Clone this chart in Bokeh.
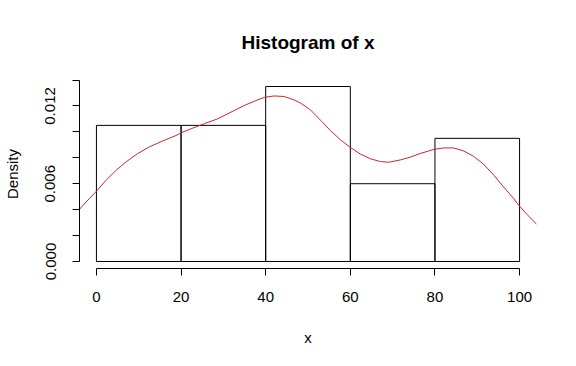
from bokeh.plotting import figure
from bokeh.models import Range1d, FixedTicker
from bokeh.embed import file_html
from bokeh.resources import INLINE

# Histogram data (breaks of width 20, density)
bin_left = [0, 20, 40, 60, 80]
bin_right = [20, 40, 60, 80, 100]
density = [0.0105, 0.0105, 0.0135, 0.006, 0.0095]

# Kernel density curve
kde_x = [-4.0, -1.65, 0.09, 2.29, 4.65, 7.0, 9.76, 12.5, 15.66, 18.8, 20.2,
         22.3, 25.5, 28.6, 31.8, 34.9, 38.1, 39.8, 42.0, 44.3, 46.7, 48.3, 50.6,
         53.0, 55.3, 57.7, 59.9, 62.4, 64.8, 67.1, 69.1, 71.9, 74.2, 76.5, 79.9,
         82.1, 84.4, 86.8, 89.1, 91.5, 93.9, 96.2, 98.6, 99.8, 101.7, 104.1]
kde_y = [0.00403, 0.00486, 0.00545, 0.00627, 0.00704, 0.00768, 0.00833, 0.00884,
         0.0093, 0.00972, 0.00995, 0.01023, 0.01063, 0.0110, 0.01152,
         0.01203, 0.01247, 0.01267, 0.01277, 0.01273, 0.01247, 0.01221, 0.01169,
         0.01088, 0.0101, 0.00938, 0.00882, 0.00828, 0.00792, 0.00771, 0.00766,
         0.00784, 0.00805, 0.00833, 0.00866, 0.00876, 0.00876, 0.00853, 0.00812,
         0.00751, 0.00666, 0.00576, 0.00486, 0.00434, 0.00365, 0.00285]

x_ticks = [0, 20, 40, 60, 80, 100]
y_ticks = [0.0, 0.002, 0.004, 0.006, 0.008, 0.010, 0.012, 0.014]
y_labels = {0.0: "0.000", 0.006: "0.006", 0.012: "0.012"}

FONT = "Liberation Sans"

p = figure(width=576, height=366, output_backend="svg", toolbar_location=None,
           x_range=Range1d(-4, 104), y_range=Range1d(-0.00054, 0.01404),
           min_border_left=78, min_border_right=40, min_border_top=79,
           min_border_bottom=98, title="Histogram of x")

p.quad(left=bin_left, right=bin_right, bottom=0, top=density,
       fill_color=None, line_color="black", line_width=1)
p.line(kde_x, kde_y, line_color="#c8282d", line_width=1)

p.outline_line_color = None
p.xgrid.visible = False
p.ygrid.visible = False
p.background_fill_color = "white"
p.border_fill_color = "white"

p.title.text_font = FONT
p.title.text_font_size = "19px"
p.title.text_font_style = "bold"
p.title.text_color = "black"
p.title.align = "center"
p.title.standoff = 53

for ax in (p.xaxis[0], p.yaxis[0]):
    ax.minor_tick_line_color = None
    ax.major_tick_in = 0
    ax.major_tick_out = 7
    ax.axis_line_color = "black"
    ax.major_tick_line_color = "black"
    ax.major_label_text_font = FONT
    ax.major_label_text_font_size = "15px"
    ax.major_label_text_color = "black"
    ax.axis_label_text_font = FONT
    ax.axis_label_text_font_size = "15px"
    ax.axis_label_text_font_style = "normal"
    ax.axis_label_text_color = "black"

p.xaxis.ticker = FixedTicker(ticks=x_ticks)
p.xaxis.bounds = (0, 100)
p.xaxis.axis_label = "x"
p.xaxis.major_label_standoff = 16
p.xaxis.axis_label_standoff = 24

p.yaxis.ticker = FixedTicker(ticks=y_ticks)
p.yaxis.bounds = (0, 0.014)
p.yaxis.major_label_overrides = {t: y_labels.get(t, "") for t in y_ticks}
p.yaxis.major_label_orientation = "vertical"
p.yaxis.axis_label = "Density"
p.yaxis.major_label_standoff = 17
p.yaxis.axis_label_standoff = 22

open("out.html", "w").write(file_html(p, INLINE))
